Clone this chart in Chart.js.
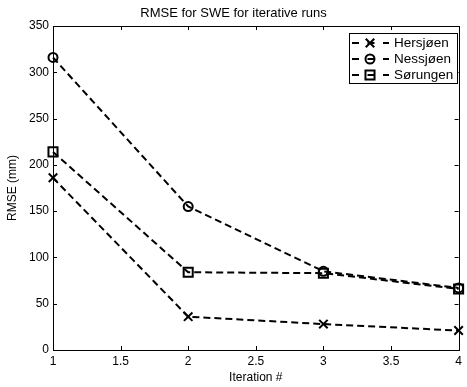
<!DOCTYPE html>
<html>
<head>
<meta charset="utf-8">
<script src="https://cdn.jsdelivr.net/npm/chart.js@4/dist/chart.umd.min.js"></script>
<style>
  html, body { margin: 0; padding: 0; background: #fff; }
  #wrap { width: 467px; height: 387px; }
</style>
</head>
<body>
<div id="wrap"><canvas id="line-chart" width="467" height="387"></canvas></div>
<script>
var iterations = [1, 2, 3, 4];
var hersjoen = [186, 36, 28, 21];
var nessjoen = [316, 155, 85, 67];
var sorungen = [214, 84, 83, 66];
var xTicks = [1, 1.5, 2, 2.5, 3, 3.5, 4];
var yTicks = [0, 50, 100, 150, 200, 250, 300, 350];

var FONT = 'Liberation Sans, Arial, Helvetica, sans-serif';

function pts(vals) {
  return vals.map(function(v, i) { return {x: iterations[i], y: v}; });
}

// box round the axes and inward ticks on all four sides, like matlab
var boxPlugin = {
  id: 'box',
  afterDatasetsDraw: function(chart) {
    var ctx = chart.ctx, a = chart.chartArea;
    var xs = chart.scales.x, ys = chart.scales.y;
    ctx.save();
    ctx.strokeStyle = '#000';
    ctx.lineWidth = 1;
    ctx.beginPath();
    xTicks.forEach(function(t) {
      var px = Math.round(xs.getPixelForValue(t)) + 0.5;
      ctx.moveTo(px, a.bottom); ctx.lineTo(px, a.bottom - 4);
      ctx.moveTo(px, a.top); ctx.lineTo(px, a.top + 4);
    });
    yTicks.forEach(function(t) {
      var py = Math.round(ys.getPixelForValue(t)) + 0.5;
      ctx.moveTo(a.left, py); ctx.lineTo(a.left + 4, py);
      ctx.moveTo(a.right, py); ctx.lineTo(a.right - 4, py);
    });
    ctx.stroke();
    ctx.strokeRect(Math.round(a.left) + 0.5, Math.round(a.top) + 0.5,
      Math.round(a.right - a.left), Math.round(a.bottom - a.top));
    ctx.restore();
  },
  afterDraw: function(chart) {
    // legend box in the upper right
    var ctx = chart.ctx;
    var bx = 349.5, by = 33.5, bw = 108, bh = 50;
    ctx.save();
    ctx.fillStyle = '#fff';
    ctx.fillRect(bx, by, bw, bh);
    ctx.strokeStyle = '#000';
    ctx.lineWidth = 1;
    ctx.strokeRect(bx, by, bw, bh);
    ctx.textBaseline = 'middle';
    chart.data.datasets.forEach(function(ds, i) {
      var y = 43 + i * 16;
      ctx.strokeStyle = '#000';
      ctx.lineWidth = 2;
      ctx.setLineDash([7, 8.5]);
      ctx.beginPath();
      ctx.moveTo(352, y); ctx.lineTo(389, y);
      ctx.stroke();
      ctx.setLineDash([]);
      ctx.fillStyle = 'rgba(0,0,0,0)';
      Chart.helpers.drawPoint(ctx, {
        pointStyle: ds.pointStyle, radius: ds.pointRadius, borderWidth: 2, rotation: 0
      }, 370, y);
      ctx.fillStyle = '#000';
      ctx.font = '13.5px ' + FONT;
      ctx.fillText(ds.label, 394, y + 0.5);
    });
    ctx.restore();
  }
};

function series(label, vals, style, r) {
  return {
    label: label,
    data: pts(vals),
    borderColor: '#000',
    backgroundColor: 'rgba(0,0,0,0)',
    borderWidth: 2,
    borderDash: [7, 4],
    pointStyle: style,
    pointRadius: r,
    pointBorderWidth: 2,
    pointBorderColor: '#000',
    pointBackgroundColor: 'rgba(0,0,0,0)',
    fill: false,
    tension: 0,
    clip: false
  };
}

new Chart(document.getElementById('line-chart'), {
  type: 'line',
  data: {
    datasets: [
      series('Hersjøen', hersjoen, 'crossRot', 6),
      series('Nessjøen', nessjoen, 'circle', 4.5),
      series('Sørungen', sorungen, 'rect', 6.4)
    ]
  },
  options: {
    responsive: false,
    animation: false,
    layout: { padding: { left: 0, right: 0, top: 0, bottom: 0 } },
    plugins: {
      legend: { display: false },
      tooltip: { enabled: false },
      title: {
        display: true,
        text: 'RMSE for SWE for iterative runs',
        color: '#000',
        font: { family: FONT, size: 13, weight: 'normal' },
        padding: { top: 6, bottom: 4.4 }
      }
    },
    scales: {
      x: {
        type: 'linear',
        min: 1, max: 4,
        afterBuildTicks: function(s) { s.ticks = xTicks.map(function(v) { return {value: v}; }); },
        afterFit: function(s) { s.height = 37; s.paddingLeft = 0; s.paddingRight = 0; },
        grid: { display: false, drawTicks: false },
        border: { display: false },
        ticks: {
          color: '#000', padding: 4, maxRotation: 0, autoSkip: false,
          font: { family: FONT, size: 12 },
          callback: function(v) { return String(v); }
        },
        title: {
          display: true, text: 'Iteration #', color: '#000',
          font: { family: FONT, size: 12 },
          padding: { top: 0, bottom: 2 }
        }
      },
      y: {
        min: 0, max: 350,
        afterBuildTicks: function(s) { s.ticks = yTicks.map(function(v) { return {value: v}; }); },
        afterFit: function(s) { s.width = 53; s.paddingTop = 0; s.paddingBottom = 0; },
        grid: { display: false, drawTicks: false },
        border: { display: false },
        ticks: {
          color: '#000', padding: 4,
          font: { family: FONT, size: 12 },
          callback: function(v) { return String(v); }
        },
        title: {
          display: true, text: 'RMSE (mm)', color: '#000',
          font: { family: FONT, size: 12 },
          padding: { top: 5, bottom: 0 }
        }
      }
    }
  },
  plugins: [boxPlugin]
});
</script>
</body>
</html>
